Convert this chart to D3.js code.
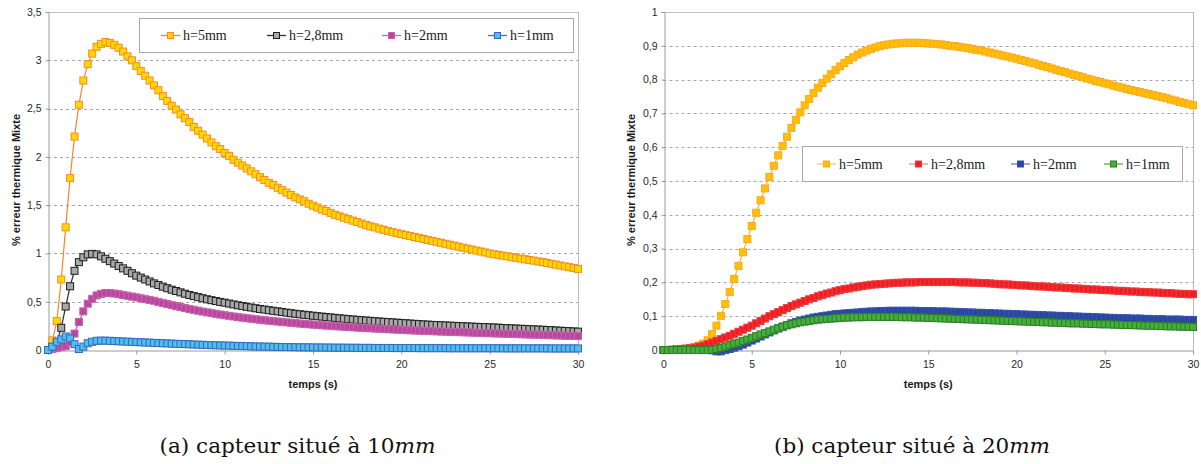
<!DOCTYPE html>
<html><head><meta charset="utf-8">
<script src="https://cdn.jsdelivr.net/npm/d3@7"></script>
<style>body{margin:0;background:#fff}svg{display:block}</style>
</head><body><svg id="c" width="1201" height="464"></svg>
<script>
// ---------- DATA ----------
const timeStep = 0.25; // seconds between samples, t = 0 .. 30
const xTicks = [0, 5, 10, 15, 20, 25, 30];
const yTicksA = [0, 0.5, 1, 1.5, 2, 2.5, 3, 3.5];
const yTicksB = [0, 0.1, 0.2, 0.3, 0.4, 0.5, 0.6, 0.7, 0.8, 0.9, 1];
const seriesNames = ["h=5mm", "h=2,8mm", "h=2mm", "h=1mm"];
const xTitle = "temps (s)";
const yTitle = "% erreur thermique Mixte";

// (a) capteur à 10mm
const a_h5 = [
0, 0.10, 0.30, 0.73,
1.27, 1.78, 2.21, 2.54,
2.79, 2.96, 3.07, 3.14,
3.17, 3.19, 3.18, 3.16,
3.13, 3.09, 3.04, 3.00,
2.94, 2.89, 2.84, 2.79,
2.74, 2.69, 2.63, 2.58,
2.53, 2.49, 2.44, 2.40,
2.36, 2.31, 2.27, 2.23,
2.19, 2.15, 2.11, 2.08,
2.04, 2.01, 1.97, 1.94,
1.91, 1.88, 1.85, 1.82,
1.79, 1.76, 1.73, 1.71,
1.68, 1.655, 1.63, 1.605,
1.58, 1.56, 1.54, 1.515,
1.495, 1.475, 1.455, 1.44,
1.42, 1.40, 1.385, 1.37,
1.355, 1.34, 1.325, 1.31,
1.295, 1.28, 1.27, 1.257,
1.245, 1.233, 1.22, 1.21,
1.20, 1.19, 1.18, 1.17,
1.16, 1.15, 1.14, 1.13,
1.12, 1.11, 1.10, 1.09,
1.08, 1.07, 1.06, 1.05,
1.04, 1.03, 1.02, 1.01,
1.00, 0.992, 0.985, 0.977,
0.97, 0.962, 0.955, 0.947,
0.94, 0.932, 0.925, 0.917,
0.91, 0.901, 0.893, 0.884,
0.875, 0.866, 0.858, 0.849,
0.84];
const a_h28 = [
0, 0.03, 0.08, 0.23,
0.45, 0.66, 0.82, 0.91,
0.96, 0.99, 0.995, 0.99,
0.97, 0.945, 0.92, 0.895,
0.87, 0.845, 0.82, 0.795,
0.77, 0.75, 0.73, 0.71,
0.69, 0.673, 0.656, 0.64,
0.625, 0.611, 0.597, 0.583,
0.57, 0.558, 0.547, 0.536,
0.525, 0.516, 0.507, 0.498,
0.49, 0.481, 0.472, 0.463,
0.455, 0.447, 0.44, 0.432,
0.425, 0.419, 0.412, 0.406,
0.40, 0.394, 0.387, 0.381,
0.375, 0.37, 0.365, 0.36,
0.355, 0.35, 0.346, 0.341,
0.337, 0.333, 0.328, 0.324,
0.32, 0.316, 0.312, 0.308,
0.305, 0.302, 0.298, 0.295,
0.292, 0.289, 0.286, 0.283,
0.28, 0.277, 0.274, 0.271,
0.268, 0.265, 0.263, 0.26,
0.258, 0.256, 0.254, 0.252,
0.25, 0.248, 0.246, 0.244,
0.242, 0.24, 0.238, 0.237,
0.235, 0.233, 0.231, 0.228,
0.226, 0.224, 0.222, 0.22,
0.218, 0.216, 0.214, 0.212,
0.21, 0.207, 0.205, 0.202,
0.2, 0.197, 0.195, 0.192,
0.19];
const a_h2 = [
0, 0.01, 0.02, 0.03,
0.04, 0.08, 0.17, 0.29,
0.40, 0.48, 0.53, 0.565,
0.58, 0.59, 0.59, 0.585,
0.578, 0.57, 0.562, 0.553,
0.545, 0.536, 0.527, 0.518,
0.51, 0.498, 0.487, 0.476,
0.465, 0.455, 0.445, 0.435,
0.425, 0.416, 0.407, 0.398,
0.39, 0.382, 0.375, 0.367,
0.36, 0.354, 0.347, 0.341,
0.335, 0.329, 0.324, 0.318,
0.313, 0.308, 0.304, 0.299,
0.295, 0.291, 0.286, 0.282,
0.278, 0.274, 0.27, 0.267,
0.263, 0.26, 0.256, 0.253,
0.25, 0.247, 0.244, 0.241,
0.238, 0.235, 0.232, 0.23,
0.227, 0.225, 0.222, 0.22,
0.217, 0.215, 0.213, 0.21,
0.208, 0.206, 0.204, 0.202,
0.2, 0.198, 0.196, 0.195,
0.193, 0.191, 0.19, 0.188,
0.186, 0.185, 0.183, 0.182,
0.18, 0.178, 0.177, 0.175,
0.174, 0.172, 0.171, 0.169,
0.168, 0.166, 0.165, 0.163,
0.162, 0.16, 0.159, 0.157,
0.156, 0.154, 0.153, 0.151,
0.15, 0.148, 0.147, 0.145,
0.144];
const a_h1 = [
0, 0.035, 0.085, 0.11,
0.14, 0.12, 0.06, 0.01,
0.035, 0.07, 0.085, 0.095,
0.097, 0.097, 0.095, 0.093,
0.09, 0.088, 0.086, 0.084,
0.082, 0.08, 0.078, 0.076,
0.074, 0.072, 0.07, 0.068,
0.066, 0.064, 0.062, 0.061,
0.059, 0.057, 0.055, 0.054,
0.052, 0.05, 0.049, 0.047,
0.046, 0.045, 0.043, 0.042,
0.041, 0.04, 0.038, 0.037,
0.036, 0.035, 0.034, 0.033,
0.032, 0.031, 0.03, 0.03,
0.029, 0.028, 0.028, 0.027,
0.027, 0.026, 0.026, 0.025,
0.025, 0.024, 0.024, 0.024,
0.023, 0.023, 0.023, 0.022,
0.022, 0.022, 0.021, 0.021,
0.021, 0.021, 0.02, 0.02,
0.02, 0.02, 0.02, 0.02,
0.019, 0.019, 0.019, 0.019,
0.019, 0.019, 0.019, 0.018,
0.018, 0.018, 0.018, 0.018,
0.018, 0.018, 0.018, 0.018,
0.018, 0.018, 0.018, 0.017,
0.017, 0.017, 0.017, 0.017,
0.017, 0.017, 0.017, 0.017,
0.017, 0.017, 0.016, 0.016,
0.016, 0.016, 0.016, 0.016,
0.016];

// (b) capteur à 20mm
const b_h5 = [
0, 0, 0.001, 0.002,
0.003, 0.004, 0.006, 0.009,
0.013, 0.019, 0.029, 0.047,
0.072, 0.101, 0.136, 0.172,
0.21, 0.249, 0.289, 0.328,
0.367, 0.406, 0.443, 0.478,
0.512, 0.545, 0.576, 0.604,
0.631, 0.657, 0.681, 0.703,
0.724, 0.743, 0.76, 0.776,
0.79, 0.803, 0.816, 0.828,
0.839, 0.849, 0.858, 0.866,
0.874, 0.88, 0.886, 0.891,
0.895, 0.899, 0.902, 0.904,
0.906, 0.907, 0.908, 0.909,
0.909, 0.909, 0.909, 0.908,
0.907, 0.906, 0.905, 0.904,
0.902, 0.9, 0.899, 0.897,
0.895, 0.893, 0.891, 0.888,
0.886, 0.883, 0.88, 0.877,
0.874, 0.871, 0.868, 0.865,
0.862, 0.858, 0.855, 0.851,
0.848, 0.844, 0.84, 0.837,
0.833, 0.829, 0.825, 0.822,
0.818, 0.814, 0.811, 0.807,
0.803, 0.8, 0.796, 0.793,
0.789, 0.786, 0.782, 0.779,
0.776, 0.772, 0.769, 0.766,
0.763, 0.76, 0.757, 0.754,
0.751, 0.748, 0.745, 0.741,
0.738, 0.734, 0.731, 0.727,
0.724];
const b_h28 = [
0, 0, 0.001, 0.002,
0.003, 0.004, 0.005, 0.007,
0.01, 0.013, 0.017, 0.022,
0.027, 0.032, 0.037, 0.042,
0.048, 0.054, 0.06, 0.066,
0.072, 0.079, 0.086, 0.093,
0.1, 0.106, 0.112, 0.118,
0.124, 0.13, 0.135, 0.14,
0.145, 0.15, 0.154, 0.159,
0.163, 0.167, 0.17, 0.174,
0.177, 0.18, 0.182, 0.185,
0.187, 0.189, 0.191, 0.193,
0.194, 0.195, 0.196, 0.197,
0.198, 0.199, 0.199, 0.2,
0.2, 0.2, 0.201, 0.201,
0.201, 0.201, 0.201, 0.201,
0.201, 0.201, 0.201, 0.2,
0.2, 0.2, 0.199, 0.199,
0.198, 0.198, 0.197, 0.196,
0.195, 0.194, 0.194, 0.193,
0.192, 0.191, 0.191, 0.19,
0.189, 0.188, 0.188, 0.187,
0.186, 0.185, 0.185, 0.184,
0.183, 0.182, 0.182, 0.181,
0.18, 0.179, 0.179, 0.178,
0.177, 0.177, 0.176, 0.175,
0.175, 0.174, 0.173, 0.173,
0.172, 0.171, 0.171, 0.17,
0.17, 0.169, 0.168, 0.168,
0.167, 0.166, 0.166, 0.165,
0.165];
const b_h2 = [
0, 0, 0, 0,
0, 0, 0, 0,
0, 0, 0, -0.001,
-0.004, -0.004, 0.0, 0.003,
0.007, 0.011, 0.016, 0.022,
0.028, 0.034, 0.04, 0.046,
0.052, 0.058, 0.064, 0.069,
0.074, 0.079, 0.083, 0.087,
0.09, 0.093, 0.096, 0.098,
0.1, 0.102, 0.104, 0.106,
0.107, 0.108, 0.109, 0.11,
0.111, 0.112, 0.113, 0.114,
0.114, 0.115, 0.115, 0.116,
0.116, 0.116, 0.116, 0.116,
0.116, 0.116, 0.115, 0.115,
0.115, 0.115, 0.114, 0.114,
0.114, 0.113, 0.113, 0.112,
0.112, 0.111, 0.111, 0.11,
0.11, 0.109, 0.109, 0.108,
0.108, 0.107, 0.107, 0.106,
0.106, 0.105, 0.105, 0.104,
0.104, 0.103, 0.103, 0.102,
0.102, 0.101, 0.101, 0.1,
0.1, 0.099, 0.099, 0.098,
0.098, 0.097, 0.097, 0.096,
0.096, 0.095, 0.095, 0.094,
0.094, 0.094, 0.093, 0.093,
0.093, 0.092, 0.092, 0.091,
0.091, 0.091, 0.09, 0.09,
0.09, 0.09, 0.089, 0.089,
0.089];
const b_h1 = [
0, 0, 0, 0,
0, 0, 0, 0,
0, 0, 0, 0.001,
0.003, 0.006, 0.01, 0.014,
0.018, 0.022, 0.027, 0.031,
0.036, 0.041, 0.046, 0.05,
0.055, 0.06, 0.064, 0.069,
0.073, 0.076, 0.079, 0.082,
0.084, 0.086, 0.088, 0.09,
0.091, 0.092, 0.093, 0.094,
0.095, 0.096, 0.096, 0.097,
0.097, 0.097, 0.098, 0.098,
0.098, 0.098, 0.098, 0.098,
0.098, 0.098, 0.097, 0.097,
0.097, 0.096, 0.096, 0.096,
0.095, 0.095, 0.094, 0.094,
0.093, 0.093, 0.092, 0.092,
0.091, 0.091, 0.09, 0.09,
0.089, 0.089, 0.088, 0.088,
0.087, 0.087, 0.086, 0.086,
0.085, 0.085, 0.084, 0.084,
0.083, 0.083, 0.082, 0.082,
0.081, 0.081, 0.08, 0.08,
0.079, 0.079, 0.079, 0.078,
0.078, 0.077, 0.077, 0.076,
0.076, 0.076, 0.075, 0.075,
0.074, 0.074, 0.074, 0.073,
0.073, 0.072, 0.072, 0.072,
0.071, 0.071, 0.07, 0.07,
0.07, 0.069, 0.069, 0.069,
0.068];

const captionA = ["(a) capteur situé à 10", "mm"];
const captionB = ["(b) capteur situé à 20", "mm"];

// ---------- STYLES ----------
const stylesA = [
  {line:"#f7862a", fill:"#ffd800", stroke:"#f98a26", size:7, lw:1.2, legLine:"#f7862a"},
  {line:"#2b2b2b", fill:"#a9a9a9", stroke:"#1e1e1e", size:7, lw:1.2, legLine:"#333"},
  {line:"#c555aa", fill:"#b9479d", stroke:"#c862ad", size:7, lw:1.2, legLine:"#cc66b4"},
  {line:"#3a5fbf", fill:"#4cc0ea", stroke:"#3a64c0", size:7, lw:1.2, legLine:"#4a6cc8"}
];
const stylesB = [
  {line:"#ffae50", fill:"#ffc000", stroke:"#ffa726", size:7, lw:1.2, legLine:"#ffc080"},
  {line:"#ee2a2a", fill:"#ee1d24", stroke:"#f03a3a", size:7, lw:1.2, legLine:"#f08a8a"},
  {line:"#2a48a0", fill:"#2846a2", stroke:"#3653aa", size:7, lw:1.2, legLine:"#6678c8"},
  {line:"#2f8a2a", fill:"#46ae3c", stroke:"#2b7f25", size:7, lw:1.2, legLine:"#55a84f"}
];

const svg = d3.select("#c");
const fmt = v => String(+v.toFixed(2)).replace(".", ",");

function drawChart(cfg) {
  const x = d3.scaleLinear().domain([0, 30]).range([cfg.x0, cfg.x1]);
  const y = d3.scaleLinear().domain([0, cfg.ymax]).range([350, 12]);
  const g = svg.append("g");

  // gridlines (dashed) for inner ticks
  g.selectAll(".grid").data(cfg.yTicks.filter(v => v > 0 && v < cfg.ymax)).enter()
    .append("line")
    .attr("x1", cfg.x0).attr("x2", cfg.x1)
    .attr("y1", d => Math.round(y(d)) + 0.5).attr("y2", d => Math.round(y(d)) + 0.5)
    .attr("stroke", "#a8a8a8").attr("stroke-width", 1).attr("stroke-dasharray", "3,3");

  // plot border top/right
  g.append("line").attr("x1", cfg.x0).attr("x2", cfg.x1 + 0.5)
    .attr("y1", Math.round(y(cfg.ymax)) + 0.5).attr("y2", Math.round(y(cfg.ymax)) + 0.5)
    .attr("stroke", "#c4c4c4");
  g.append("line").attr("x1", Math.round(cfg.x1) + 0.5).attr("x2", Math.round(cfg.x1) + 0.5)
    .attr("y1", 12).attr("y2", 350).attr("stroke", "#b8b8b8");

  // axes
  const xa = g.append("g").attr("transform", "translate(0,350.5)")
    .call(d3.axisBottom(x).tickValues(xTicks).tickSize(4).tickPadding(6).tickFormat(d => String(d)));
  const ya = g.append("g").attr("transform", `translate(${Math.round(cfg.x0) + 0.5},0)`)
    .call(d3.axisLeft(y).tickValues(cfg.yTicks).tickSize(3).tickPadding(4).tickFormat(fmt));
  [xa, ya].forEach(a => {
    a.select(".domain").attr("stroke", "#9a9a9a");
    a.selectAll(".tick line").attr("stroke", "#9a9a9a");
    a.selectAll("text").attr("fill", "#2a2a2a").attr("font-size", "10.5px")
      .attr("font-family", "'Liberation Sans', Arial, sans-serif");
  });

  // titles
  g.append("text").attr("x", (cfg.x0 + cfg.x1) / 2).attr("y", 388)
    .attr("text-anchor", "middle").attr("font-family", "'Liberation Sans', Arial, sans-serif")
    .attr("font-weight", "bold").attr("font-size", "11px").attr("fill", "#1a1a1a").text(xTitle);
  g.append("text").attr("transform", `translate(${cfg.ytx},180) rotate(-90)`)
    .attr("text-anchor", "middle").attr("dy", "0.35em")
    .attr("font-family", "'Liberation Sans', Arial, sans-serif")
    .attr("font-weight", "bold").attr("font-size", "11px").attr("fill", "#1a1a1a").text(yTitle);

  // series
  const line = d3.line().x((d, i) => x(i * timeStep)).y(d => y(d));
  cfg.series.forEach((vals, si) => {
    const st = cfg.styles[si];
    const sg = g.append("g");
    sg.append("path").datum(vals).attr("d", line).attr("fill", "none")
      .attr("stroke", st.line).attr("stroke-width", st.lw);
    sg.selectAll("rect").data(vals).enter().append("rect")
      .attr("x", (d, i) => x(i * timeStep) - st.size / 2)
      .attr("y", d => y(d) - st.size / 2)
      .attr("width", st.size).attr("height", st.size)
      .attr("fill", st.fill).attr("stroke", st.stroke).attr("stroke-width", 1);
  });

  // legend
  const L = cfg.legend;
  const lg = g.append("g");
  lg.append("rect").attr("x", L.x + 0.5).attr("y", L.y + 0.5).attr("width", L.w).attr("height", L.h)
    .attr("fill", "#fff").attr("stroke", "#a8a8a8");
  seriesNames.forEach((name, i) => {
    const st = cfg.styles[i];
    const lx = L.items[i];
    const cy = L.y + L.h / 2 + 0.5;
    lg.append("line").attr("x1", lx).attr("x2", lx + 19).attr("y1", cy).attr("y2", cy)
      .attr("stroke", st.legLine).attr("stroke-width", 1.3);
    lg.append("rect").attr("x", lx + 9.5 - 3).attr("y", cy - 3).attr("width", 6).attr("height", 6)
      .attr("fill", st.fill).attr("stroke", st.stroke);
    lg.append("text").attr("x", lx + 22).attr("y", cy).attr("dy", "0.35em")
      .attr("font-family", "'Liberation Serif', 'DejaVu Serif', serif").attr("font-size", "14px")
      .attr("fill", "#1a1a1a").text(name);
  });

  // caption
  const cap = svg.append("text").attr("x", cfg.capX).attr("y", 453)
    .attr("text-anchor", "middle").attr("font-family", "'DejaVu Serif', serif")
    .attr("font-size", "21px").attr("fill", "#111")
    .attr("textLength", 276).attr("lengthAdjust", "spacingAndGlyphs");
  cap.append("tspan").text(cfg.caption[0]);
  cap.append("tspan").attr("font-style", "italic").text(cfg.caption[1]);
}

drawChart({
  x0: 48, x1: 578, ymax: 3.5, yTicks: yTicksA, ytx: 16,
  series: [a_h5, a_h28, a_h2, a_h1], styles: stylesA,
  legend: {x: 139, y: 18, w: 434, h: 34, items: [161, 267, 382, 488]},
  caption: captionA, capX: 297.5
});
drawChart({
  x0: 663.5, x1: 1193, ymax: 1, yTicks: yTicksB, ytx: 631,
  series: [b_h5, b_h28, b_h2, b_h1], styles: stylesB,
  legend: {x: 802, y: 146, w: 380, h: 35, items: [817, 909, 1011, 1104]},
  caption: captionB, capX: 912
});
</script>
</body></html>
